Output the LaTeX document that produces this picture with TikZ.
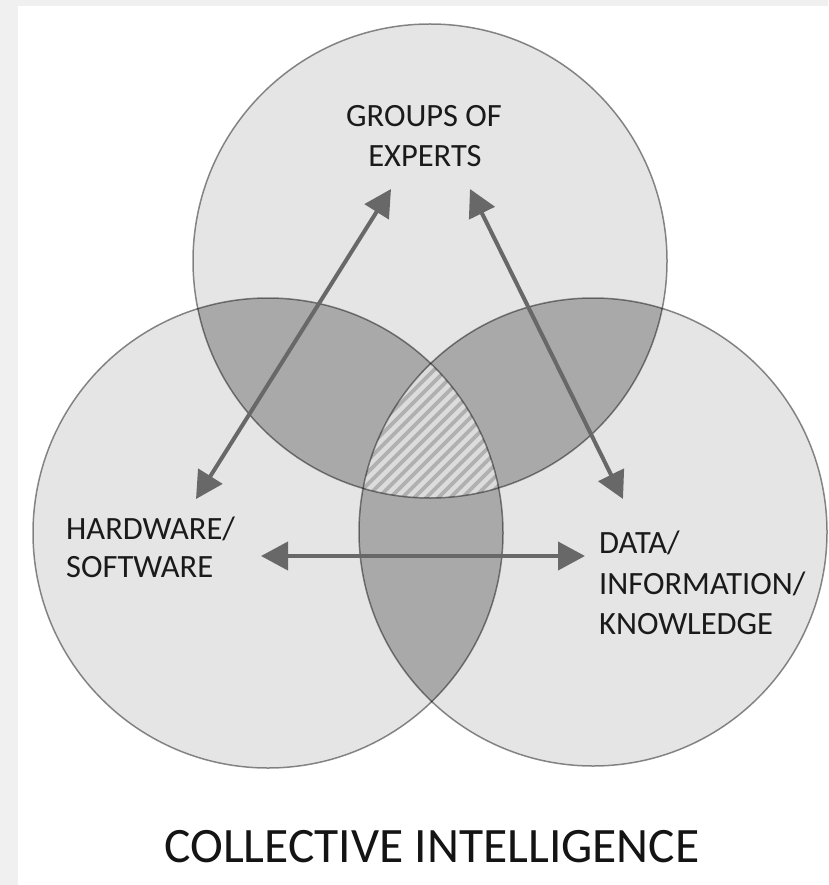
\documentclass[tikz,border=0pt]{standalone}
\usepackage{fontspec}
\setmainfont{Carlito}
\usetikzlibrary{arrows.meta}
\definecolor{bgstrip}{HTML}{F0F0F0}
\definecolor{single}{HTML}{E5E5E5}
\definecolor{pairfill}{HTML}{A9A9A9}
\definecolor{triplefill}{HTML}{B0B0B0}
\definecolor{stripecol}{HTML}{DCDCDC}
\definecolor{arrowcol}{HTML}{686868}
\definecolor{textcol}{HTML}{1A1A1A}
\tikzset{
  outline/.style={draw=black, draw opacity=0.45, line width=1.5pt},
  label/.style={inner sep=0pt, text=textcol, font=\fontsize{32.5}{38}\selectfont},
  title/.style={inner sep=0pt, text=black!92, font=\fontsize{49.5}{58}\selectfont},
  link/.style={draw=arrowcol, line width=4pt,
    {Triangle[length=27pt,width=28pt]}-{Triangle[length=27pt,width=28pt]}},
  stripe/.style={draw=stripecol, line width=4.5pt}
}
\begin{document}
\begin{tikzpicture}[x=1pt,y=-1pt]
\useasboundingbox (0,0) rectangle (828,885);
\fill[white] (0,0) rectangle (828,885);
\fill[bgstrip] (0,0) rectangle (18,885);
\fill[bgstrip] (0,0) rectangle (828,6);

\coordinate (T) at (430,261);
\coordinate (L) at (268,533);
\coordinate (R) at (593,532);
\def\rT{237}
\def\rL{235}
\def\rR{234}

% single fills
\fill[single] (T) circle[radius=\rT];
\fill[single] (L) circle[radius=\rL];
\fill[single] (R) circle[radius=\rR];

% pairwise overlaps
\begin{scope}
  \clip (T) circle[radius=\rT];
  \fill[pairfill] (L) circle[radius=\rL];
  \fill[pairfill] (R) circle[radius=\rR];
\end{scope}
\begin{scope}
  \clip (L) circle[radius=\rL];
  \fill[pairfill] (R) circle[radius=\rR];
\end{scope}

% triple overlap with stripes
\begin{scope}
  \clip (T) circle[radius=\rT];
  \clip (L) circle[radius=\rL];
  \clip (R) circle[radius=\rR];
  \fill[triplefill] (340,340) rectangle (520,520);
  \foreach \k in {-20,...,20} {
    \draw[stripe] (430+\k*12-120,560) -- (430+\k*12+120,320);
  }
\end{scope}

% outlines
\draw[outline] (T) circle[radius=\rT];
\draw[outline] (L) circle[radius=\rL];
\draw[outline] (R) circle[radius=\rR];

% labels
\node[label, anchor=base] (g1) at (424,127) {GROUPS OF};
\node[label, anchor=base] (g2) at (425,167) {EXPERTS};
\node[label, anchor=base west] (h1) at (66,539) {HARDWARE/};
\node[label, anchor=base west] (h2) at (66,577) {SOFTWARE};
\node[label, anchor=base west] (d1) at (599,553) {DATA/};
\node[label, anchor=base west] (d2) at (599,594) {INFORMATION/};
\node[label, anchor=base west] (d3) at (599,634) {KNOWLEDGE};
\node[title, anchor=base] (ci) at (432,862) {COLLECTIVE INTELLIGENCE};

% arrows
\coordinate (a1s) at (196,499);
\coordinate (a1e) at (391,189);
\coordinate (a2s) at (470,189);
\coordinate (a2e) at (623,499);
\coordinate (a3s) at (261,556);
\coordinate (a3e) at (585,556);
\draw[link] (a1s) -- (a1e);
\draw[link] (a2s) -- (a2e);
\draw[link] (a3s) -- (a3e);
\end{tikzpicture}
\end{document}
